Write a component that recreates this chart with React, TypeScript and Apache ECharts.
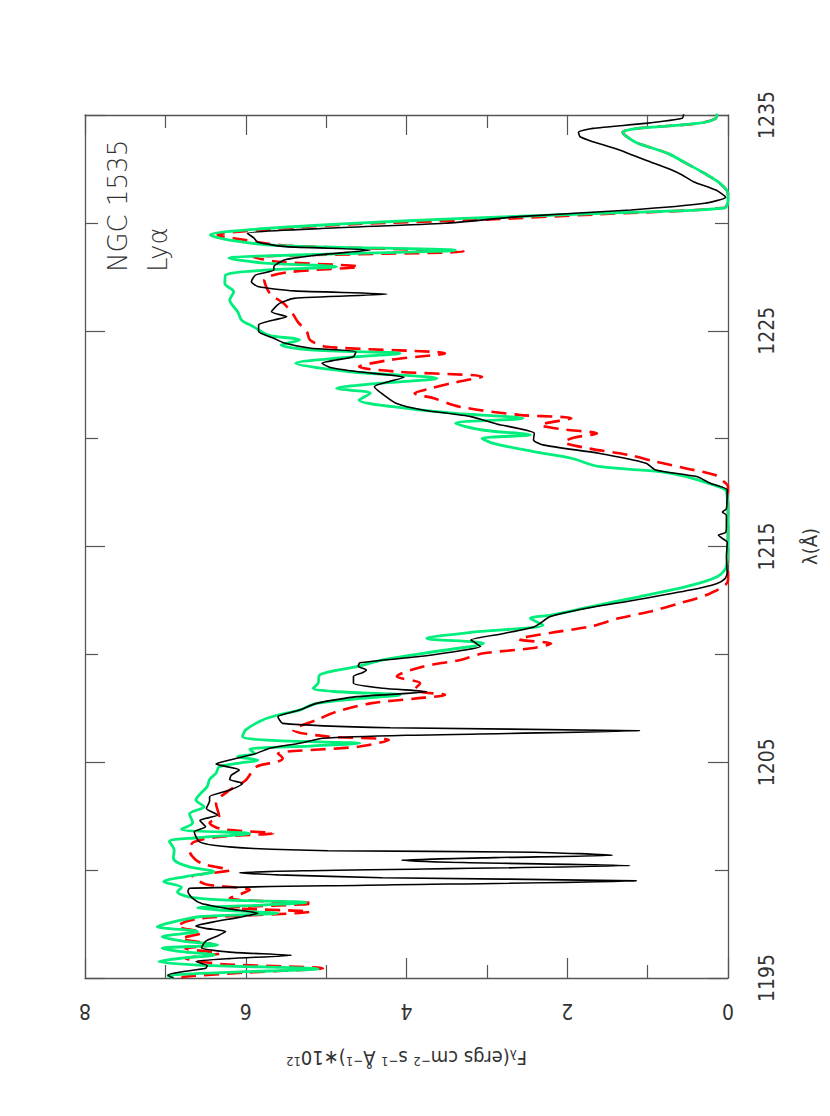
import React, { useEffect, useRef } from "react";
import * as echarts from "echarts";

// Observed spectrum (black)
const blackWave = [1195.0,1195.14,1195.29,1195.45,1195.57,1195.76,1195.9,1196.05,1196.2,1196.4,1196.7,1196.95,1197.15,1197.3,1197.41,1197.6,1197.8,1198.0,1198.2,1198.45,1198.69,1199.0,1199.16,1199.3,1199.5,1199.65,1199.78,1199.88,1199.97,1200.21,1200.35,1200.46,1200.58,1200.69,1200.83,1200.9,1201.0,1201.15,1201.32,1201.55,1201.78,1202.01,1202.3,1202.55,1202.86,1203.2,1203.4,1203.71,1204.02,1204.2,1204.4,1204.64,1204.92,1205.1,1205.41,1205.65,1205.88,1206.11,1206.25,1206.46,1206.6,1206.8,1207.11,1207.42,1207.73,1208.04,1208.27,1208.43,1208.66,1208.97,1209.15,1209.28,1209.45,1209.61,1209.89,1210.1,1210.36,1210.55,1210.67,1210.97,1211.28,1211.75,1212.06,1212.52,1212.98,1213.29,1213.5,1213.76,1214.5,1215.2,1215.4,1215.53,1215.65,1216.0,1216.45,1216.6,1216.75,1217.62,1217.93,1218.24,1218.55,1218.86,1219.32,1219.7,1219.94,1220.25,1220.68,1221.02,1221.33,1221.64,1222.1,1222.41,1222.64,1222.84,1223.1,1223.3,1223.49,1223.8,1224.03,1224.19,1224.42,1224.65,1224.96,1225.27,1225.5,1225.65,1225.88,1226.27,1226.5,1226.7,1226.85,1227.04,1227.27,1227.58,1227.81,1227.97,1228.3,1228.55,1228.74,1228.9,1229.1,1229.3,1229.52,1229.75,1229.98,1230.29,1230.6,1230.91,1231.19,1231.52,1231.91,1232.22,1232.45,1232.91,1233.38,1233.76,1233.99,1234.2,1234.38,1234.61,1234.85,1235.08];
const blackFlux = [6.9,6.97,6.79,6.5,6.48,6.62,6.2,5.43,6.2,6.55,6.5,6.35,6.25,6.5,6.62,6.4,6.1,5.85,6.2,6.55,6.66,6.72,6.7,4.5,1.14,4.3,5.6,6.08,5.3,1.22,3.3,4.06,2.9,1.44,2.41,4.98,5.9,6.4,6.58,6.62,6.64,6.5,6.57,6.35,6.49,6.45,6.45,6.2,6.04,6.2,6.18,6.08,6.37,6.2,5.87,5.7,5.33,5.04,4.0,1.1,4.2,5.54,5.6,5.33,5.12,4.62,3.75,4.29,4.66,4.66,4.55,4.5,4.6,4.58,3.87,3.45,3.08,3.15,3.2,2.79,2.41,2.21,1.87,1.15,0.47,0.135,0.04,0.01,0.02,0.01,0.08,0.12,0.03,0.02,0.02,0.07,0.02,0.01,0.22,0.39,0.9,1.02,1.61,2.29,2.42,2.41,2.88,3.2,3.8,4.13,4.31,4.4,4.22,4.03,4.6,4.95,5.05,4.66,4.63,5.19,5.51,5.65,5.84,5.84,5.65,5.49,5.68,5.58,5.4,4.24,5.4,5.84,5.93,5.88,5.65,5.65,5.5,5.0,4.45,5.5,5.85,5.9,5.98,5.0,3.52,2.6,1.21,0.29,0.03,0.15,0.43,0.57,0.7,1.03,1.35,1.68,1.84,1.86,1.68,1.03,0.57,0.55];

// Model 1 (red dashed)
const redWave = [1195.0,1195.06,1195.25,1195.45,1195.65,1195.91,1196.14,1196.37,1196.55,1196.83,1197.1,1197.4,1197.75,1198.07,1198.25,1198.46,1198.7,1199.08,1199.35,1199.7,1200.0,1200.25,1200.47,1200.9,1201.3,1201.55,1201.71,1201.9,1202.2,1202.47,1203.1,1203.71,1204.17,1204.79,1205.03,1205.18,1205.4,1205.72,1206.03,1206.2,1206.5,1206.96,1207.34,1207.73,1207.95,1208.12,1208.35,1208.66,1208.97,1209.43,1209.74,1210.05,1210.28,1210.5,1210.7,1211.0,1211.3,1211.67,1212.0,1212.37,1212.83,1213.45,1217.78,1218.0,1218.31,1218.62,1218.93,1219.24,1219.55,1219.85,1220.05,1220.24,1220.45,1220.63,1220.94,1221.1,1221.48,1221.87,1222.1,1222.33,1222.6,1222.87,1223.1,1223.33,1223.65,1223.95,1224.26,1224.57,1224.96,1225.4,1225.81,1226.27,1226.73,1227.35,1227.7,1227.97,1228.2,1228.4,1228.67,1228.95,1229.2,1229.44,1229.7,1229.95,1230.13,1230.4,1230.7,1231.0,1231.36,1231.83,1232.29,1232.76,1233.22,1233.69,1234.0,1234.2,1234.38,1234.61,1234.85,1235.08];
const redFlux = [6.8,6.77,6.0,5.04,6.3,6.75,6.33,6.75,6.4,6.8,6.55,6.85,6.6,5.2,6.2,5.16,6.2,5.95,6.5,6.66,6.2,6.5,6.62,6.7,6.65,6.3,5.66,6.3,6.45,6.33,6.37,6.2,6.0,5.87,5.6,5.54,5.6,4.6,4.22,5.0,5.41,5.12,4.87,4.45,3.9,3.52,3.91,3.83,4.12,3.8,3.33,3.04,2.45,2.2,2.6,2.2,1.7,1.36,0.95,0.6,0.22,0.0,0.0,0.05,0.16,0.52,0.9,1.23,1.74,2.04,1.91,1.63,2.1,2.33,1.95,2.6,3.34,3.66,3.9,3.7,3.4,3.06,4.1,4.59,4.2,3.52,5.0,5.2,5.24,5.35,5.42,5.53,5.7,5.77,5.5,4.59,5.6,5.9,3.29,5.5,6.0,6.35,5.7,4.6,3.16,1.6,0.05,0.0,0.0,0.1,0.29,0.52,0.75,1.12,1.26,1.31,1.12,0.38,0.15,0.14];

// Model 2 (green)
const greenWave = [1195.0,1195.1,1195.25,1195.42,1195.6,1195.76,1195.92,1196.07,1196.22,1196.38,1196.53,1196.72,1196.91,1197.15,1197.38,1197.6,1197.85,1198.0,1198.12,1198.25,1198.38,1198.5,1198.62,1198.75,1199.0,1199.2,1199.46,1199.7,1199.93,1200.15,1200.35,1200.56,1200.93,1201.33,1201.5,1201.7,1201.9,1202.2,1202.6,1202.94,1203.25,1203.56,1203.87,1204.2,1204.49,1204.79,1204.95,1205.1,1205.26,1205.41,1205.6,1205.75,1205.88,1206.0,1206.19,1206.5,1206.96,1207.19,1207.42,1207.73,1207.95,1208.12,1208.28,1208.43,1208.66,1209.05,1209.43,1209.74,1210.05,1210.51,1210.74,1211.05,1211.36,1211.67,1211.82,1212.21,1212.67,1213.14,1213.6,1214.07,1215.0,1216.5,1217.3,1217.62,1217.85,1218.24,1218.47,1218.71,1219.09,1219.4,1219.78,1220.01,1220.17,1220.4,1220.71,1220.94,1221.17,1221.4,1221.79,1222.1,1222.33,1222.56,1222.79,1223.1,1223.49,1223.75,1223.95,1224.11,1224.34,1224.57,1224.8,1225.18,1225.49,1225.88,1226.42,1226.81,1227.19,1227.58,1227.8,1227.97,1228.15,1228.36,1228.55,1228.73,1228.95,1229.2,1229.44,1229.7,1229.95,1230.21,1230.45,1230.68,1231.0,1231.36,1231.83,1232.29,1232.76,1233.22,1233.69,1234.0,1234.2,1234.38,1234.61,1234.85,1235.08];
const greenFlux = [6.9,6.97,6.3,5.1,6.6,7.08,6.8,6.39,6.8,7.04,6.35,6.8,7.04,6.6,7.1,6.9,6.55,5.6,6.2,6.6,5.8,5.25,6.3,6.7,6.85,6.8,7.02,6.75,6.4,6.7,6.85,6.9,6.89,6.95,6.6,5.95,6.8,6.66,6.7,6.52,6.62,6.56,6.48,6.45,6.37,6.33,6.1,5.85,6.1,5.89,5.95,5.2,4.58,5.6,6.04,6.0,5.79,5.6,5.33,5.12,4.6,4.08,4.9,5.16,5.1,5.08,4.62,4.29,3.79,3.04,3.75,3.12,2.3,2.46,2.2,1.7,1.11,0.52,0.135,0.02,0.0,0.0,0.01,0.03,0.18,0.52,0.85,1.61,1.95,2.42,2.92,3.06,2.46,3.06,3.39,2.55,3.39,3.99,4.59,4.45,4.87,4.36,3.62,4.7,5.38,4.8,4.08,5.2,5.56,5.33,5.72,5.9,6.05,6.1,6.2,6.15,6.26,6.25,5.8,4.87,5.8,6.21,5.0,3.39,5.6,6.2,6.44,5.9,4.8,3.29,1.5,0.05,0.0,0.0,0.1,0.29,0.52,0.75,1.12,1.26,1.31,1.12,0.38,0.15,0.14];

const xTitle = "{a|F}{sub|λ}{a|(ergs cm}{sup|−2}{a| s}{sup|−1}{a| Å}{sup|−1}{a|)∗10}{sup|12}";
const yTitle = "λ(Å)";
const annotation1 = "NGC 1535";
const annotation2 = "Lyα";

const LABEL_FONT = "'Liberation Sans Narrow', 'DejaVu Sans Condensed', 'Liberation Sans', sans-serif";
const FRAME = "#555";

function pairs(fl: number[], wl: number[]) {
  return fl.map((f, i) => [f, wl[i]]);
}

export default function App() {
  const ref = useRef<HTMLDivElement>(null);
  useEffect(() => {
    if (!ref.current) return;
    const chart = echarts.init(ref.current, null, { renderer: "svg" });
    const tickLine = { color: FRAME, width: 1.2 };
    const baseX = {
      type: "value",
      min: 0,
      max: 8,
      interval: 2,
      inverse: true,
      axisLine: { show: true, onZero: false, lineStyle: { color: FRAME, width: 1.3 } },
      axisTick: { show: true, inside: true, length: 20, lineStyle: tickLine },
      minorTick: { show: true, splitNumber: 2, length: 13, lineStyle: tickLine },
      splitLine: { show: false },
    };
    const baseY = {
      type: "value",
      min: 1195,
      max: 1235,
      interval: 10,
      axisLine: { show: true, onZero: false, lineStyle: { color: FRAME, width: 1.3 } },
      axisTick: { show: true, inside: true, length: 20, lineStyle: tickLine },
      minorTick: { show: true, splitNumber: 2, length: 13, lineStyle: tickLine },
      splitLine: { show: false },
    };
    chart.setOption({
      animation: false,
      backgroundColor: "#ffffff",
      grid: { left: 85, right: 102, top: 115, bottom: 138 },
      xAxis: [
        {
          ...baseX,
          position: "bottom",
          axisLabel: {
            show: true,
            rotate: 180,
            margin: 22,
            fontSize: 21,
            color: "#333",
            fontFamily: LABEL_FONT,
            formatter: (v: number) => String(v),
          },
          name: xTitle,
          nameLocation: "middle",
          nameRotate: 180,
          nameGap: 70,
          nameTextStyle: {
            color: "#333",
            rich: {
              a: { fontSize: 20, fontFamily: LABEL_FONT, color: "#333" },
              sub: { fontSize: 13, fontFamily: LABEL_FONT, color: "#333", verticalAlign: "bottom" },
              sup: { fontSize: 13, fontFamily: LABEL_FONT, color: "#333", verticalAlign: "top" },
            },
          },
        },
        { ...baseX, position: "top", axisLabel: { show: false } },
      ],
      yAxis: [
        {
          ...baseY,
          position: "right",
          axisLabel: {
            show: true,
            rotate: 90,
            margin: 28,
            fontSize: 21,
            color: "#333",
            fontFamily: LABEL_FONT,
            formatter: (v: number) => String(v),
          },
          name: yTitle,
          nameLocation: "middle",
          nameRotate: 90,
          nameGap: 72,
          nameTextStyle: { fontSize: 20, fontFamily: LABEL_FONT, color: "#333" },
        },
        { ...baseY, position: "left", axisLabel: { show: false } },
      ],
      graphic: [
        {
          type: "text",
          x: 118,
          y: 272,
          rotation: Math.PI / 2,
          style: {
            text: annotation1,
            fontSize: 26,
            fontWeight: 200,
            fontFamily: "'DejaVu Sans', sans-serif",
            fill: "#333",
            align: "left",
            verticalAlign: "middle",
            textAlign: "left",
            textVerticalAlign: "middle",
          },
        },
        {
          type: "text",
          x: 158,
          y: 272,
          rotation: Math.PI / 2,
          style: {
            text: annotation2,
            fontSize: 26,
            fontWeight: 200,
            fontFamily: "'DejaVu Sans', sans-serif",
            fill: "#333",
            align: "left",
            verticalAlign: "middle",
            textAlign: "left",
            textVerticalAlign: "middle",
          },
        },
      ],
      series: [
        {
          type: "line",
          name: "model 1",
          data: pairs(redFlux, redWave),
          showSymbol: false,
          symbol: "none",
          smooth: 0.3,
          lineStyle: { color: "#ff0000", width: 2.6, type: [15, 8] },
          z: 2,
        },
        {
          type: "line",
          name: "model 2",
          data: pairs(greenFlux, greenWave),
          showSymbol: false,
          symbol: "none",
          smooth: 0.3,
          lineStyle: { color: "#00ee7c", width: 2.8 },
          z: 3,
        },
        {
          type: "line",
          name: "observed",
          data: pairs(blackFlux, blackWave),
          showSymbol: false,
          symbol: "none",
          smooth: 0.2,
          lineStyle: { color: "#000000", width: 1.6 },
          z: 4,
        },
      ],
    });
    return () => chart.dispose();
  }, []);
  return (
    <div
      ref={ref}
      style={{ position: "absolute", left: 0, top: 0, width: 830, height: 1116, background: "#fff" }}
    />
  );
}
